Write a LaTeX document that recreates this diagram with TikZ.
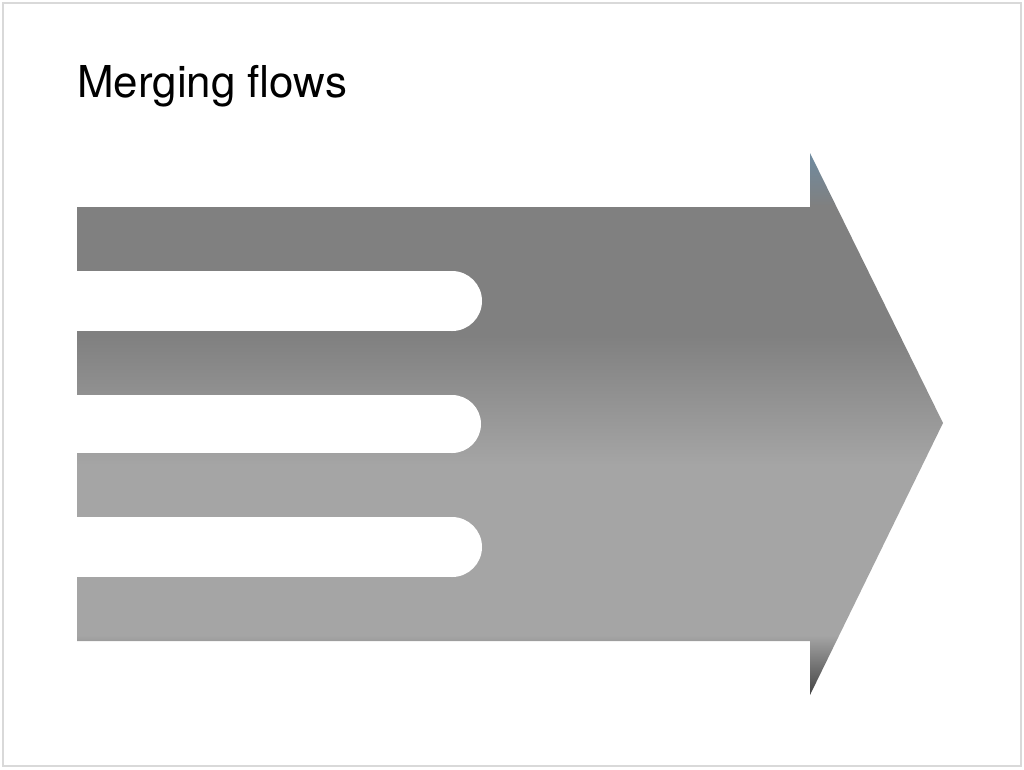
\documentclass[tikz,border=0pt]{standalone}
\usepackage{fontspec}
\setmainfont{TeX Gyre Heros}
\definecolor{flowblue}{RGB}{79,160,220}
\definecolor{mgray}{RGB}{128,128,128}
\definecolor{lgray}{RGB}{165,165,165}
\pgfdeclareverticalshading{flows}{100bp}{
  color(0bp)=(black);
  color(32bp)=(black);
  color(37.8bp)=(lgray);
  color(47.6bp)=(lgray);
  color(55.1bp)=(mgray);
  color(62.6bp)=(mgray);
  color(71.2bp)=(flowblue);
  color(100bp)=(flowblue)}
\begin{document}
\begin{tikzpicture}[x=0.02cm,y=-0.02cm,
  slot/.style={fill=white}]
\useasboundingbox (0,0) rectangle (1024,769);
\draw[gray!30,line width=0.6pt] (3,3) rectangle (1021,766);
\node[anchor=base west,inner sep=0pt,font=\fontsize{25}{30}\selectfont] (title) at (77,97) {Merging flows};
\begin{scope}
\clip (77,207) -- (810,207) -- (810,153) -- (943,423) -- (810,695) -- (810,641) -- (77,641) -- cycle;
\shade[shading=flows] (77,-9) rectangle (943,857);
\end{scope}
\foreach \a/\b in {271/331,395/453,517/577}{
  \fill[slot] (70,\a) rectangle (452,\b);
  \fill[slot] (452,{(\a+\b)/2}) circle ({(\b-\a)/2*0.02cm});
}
\end{tikzpicture}
\end{document}
